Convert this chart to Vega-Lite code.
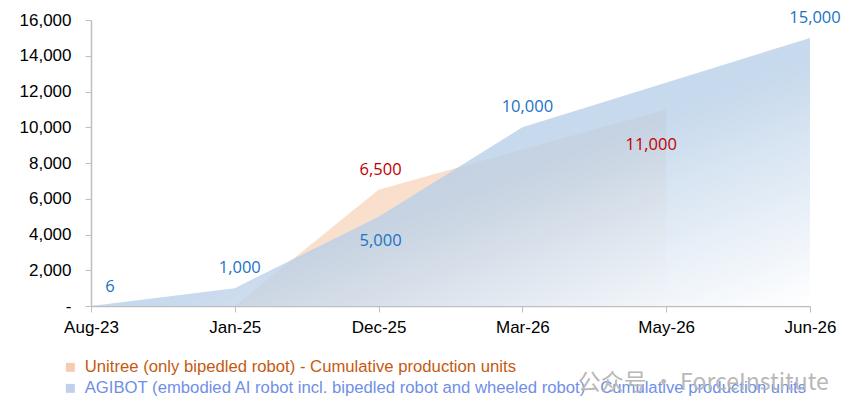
{
  "$schema": "https://vega.github.io/schema/vega-lite/v6.json",
  "width": 719,
  "height": 286,
  "autosize": {"type": "none"},
  "padding": {"left": 91, "top": 20, "right": 55, "bottom": 111},
  "background": "white",
  "title": {
    "text": "公众号 · ForceInstitute",
    "orient": "bottom",
    "anchor": "end",
    "offset": 0,
    "dy": -26,
    "dx": -12,
    "color": "#b8b8b8",
    "fontSize": 23,
    "fontWeight": "normal",
    "font": "Noto Sans CJK SC"
  },
  "data": {
    "values": [
      {"month": "Jan-25", "series": "Unitree (only bipedled robot) - Cumulative production units", "value": 0},
      {"month": "Dec-25", "series": "Unitree (only bipedled robot) - Cumulative production units", "value": 6500},
      {"month": "May-26", "series": "Unitree (only bipedled robot) - Cumulative production units", "value": 11000},
      {"month": "Aug-23", "series": "AGIBOT (embodied AI robot incl. bipedled robot and wheeled robot) - Cumulative production units", "value": 6},
      {"month": "Jan-25", "series": "AGIBOT (embodied AI robot incl. bipedled robot and wheeled robot) - Cumulative production units", "value": 1000},
      {"month": "Dec-25", "series": "AGIBOT (embodied AI robot incl. bipedled robot and wheeled robot) - Cumulative production units", "value": 5000},
      {"month": "Mar-26", "series": "AGIBOT (embodied AI robot incl. bipedled robot and wheeled robot) - Cumulative production units", "value": 10000},
      {"month": "Jun-26", "series": "AGIBOT (embodied AI robot incl. bipedled robot and wheeled robot) - Cumulative production units", "value": 15000}
    ]
  },
  "encoding": {
    "x": {
      "field": "month",
      "type": "ordinal",
      "sort": ["Aug-23", "Jan-25", "Dec-25", "Mar-26", "May-26", "Jun-26"],
      "scale": {"type": "point", "padding": 0, "domain": ["Aug-23", "Jan-25", "Dec-25", "Mar-26", "May-26", "Jun-26"]},
      "axis": {
        "title": null,
        "labelAngle": 0,
        "labelFont": "Liberation Sans",
        "labelFontSize": 17,
        "labelColor": "#000000",
        "labelPadding": 7,
        "tickSize": 6,
        "tickColor": "#bfbfbf",
        "domainColor": "#bfbfbf",
        "domainWidth": 1.5,
        "grid": false
      }
    },
    "y": {
      "field": "value",
      "type": "quantitative",
      "scale": {"domain": [0, 16000], "nice": false},
      "axis": {
        "title": null,
        "values": [0, 2000, 4000, 6000, 8000, 10000, 12000, 14000, 16000],
        "labelExpr": "datum.value == 0 ? '-' : format(datum.value, ',')",
        "labelFont": "Liberation Sans",
        "labelFontSize": 17,
        "labelColor": "#000000",
        "labelPadding": 14,
        "tickSize": 6,
        "tickColor": "#bfbfbf",
        "domainColor": "#bfbfbf",
        "domainWidth": 1.5,
        "grid": false
      }
    }
  },
  "layer": [
    {
      "transform": [{"filter": "indexof(datum.series, 'Unitree') == 0"}],
      "mark": {
        "type": "area",
        "fill": {
          "gradient": "linear",
          "x1": 0, "y1": 0, "x2": 1, "y2": 1,
          "stops": [
            {"offset": 0, "color": "#fbd9bf"},
            {"offset": 0.6, "color": "#f8e2d2"},
            {"offset": 1, "color": "#ffffff"}
          ]
        }
      }
    },
    {
      "transform": [{"filter": "indexof(datum.series, 'AGIBOT') == 0"}],
      "mark": {
        "type": "area",
        "fillOpacity": 0.78,
        "fill": {
          "gradient": "linear",
          "x1": 0, "y1": 0, "x2": 1, "y2": 1,
          "stops": [
            {"offset": 0, "color": "#b3cce6"},
            {"offset": 0.55, "color": "#b8cfe7"},
            {"offset": 1, "color": "#ffffff"}
          ]
        }
      }
    },
    {
      "mark": {"type": "point", "filled": true, "opacity": 0, "shape": "square"},
      "encoding": {
        "color": {
          "field": "series",
          "type": "nominal",
          "scale": {
            "domain": [
              "Unitree (only bipedled robot) - Cumulative production units",
              "AGIBOT (embodied AI robot incl. bipedled robot and wheeled robot) - Cumulative production units"
            ],
            "range": ["#f5ccb0", "#bfd0ec"]
          },
          "legend": {
            "title": null,
            "orient": "none",
            "legendX": -29,
            "legendY": 339,
            "direction": "vertical",
            "symbolType": "square",
            "symbolSize": 80,
            "symbolOpacity": 1,
            "symbolStrokeWidth": 0,
            "labelFont": "Liberation Sans",
            "labelFontSize": 16.7,
            "labelLimit": 0,
            "labelOffset": 6,
            "rowPadding": 3,
            "labelColor": {"expr": "indexof(datum.label, 'Unitree') == 0 ? '#c55a11' : '#6f8fe6'"}
          }
        }
      }
    },
    {
      "transform": [{"filter": "indexof(datum.series, 'AGIBOT') == 0 && datum.value >= 1000 && datum.value != 5000"}],
      "mark": {"type": "text", "font": "Open Sans", "fontSize": 16.5, "color": "#1a73c4", "dy": -20, "dx": 5},
      "encoding": {"text": {"field": "value", "type": "quantitative", "format": ","}}
    },
    {
      "transform": [{"filter": "indexof(datum.series, 'AGIBOT') == 0 && datum.value < 1000"}],
      "mark": {"type": "text", "font": "Open Sans", "fontSize": 16.5, "color": "#1a73c4", "dy": -19, "dx": 19},
      "encoding": {"text": {"field": "value", "type": "quantitative", "format": ","}}
    },
    {
      "transform": [{"filter": "indexof(datum.series, 'AGIBOT') == 0 && datum.value == 5000"}],
      "mark": {"type": "text", "font": "Open Sans", "fontSize": 16.5, "color": "#1a73c4", "dy": 24, "dx": 2},
      "encoding": {"text": {"field": "value", "type": "quantitative", "format": ","}}
    },
    {
      "transform": [{"filter": "indexof(datum.series, 'Unitree') == 0 && datum.value == 6500"}],
      "mark": {"type": "text", "font": "Open Sans", "fontSize": 16.5, "color": "#c00000", "dy": -20, "dx": 2},
      "encoding": {"text": {"field": "value", "type": "quantitative", "format": ","}}
    },
    {
      "transform": [{"filter": "indexof(datum.series, 'Unitree') == 0 && datum.value == 11000"}],
      "mark": {"type": "text", "font": "Open Sans", "fontSize": 16.5, "color": "#c00000", "dy": 36, "dx": -15},
      "encoding": {"text": {"field": "value", "type": "quantitative", "format": ","}}
    }
  ],
  "config": {
    "view": {"stroke": null}
  }
}
